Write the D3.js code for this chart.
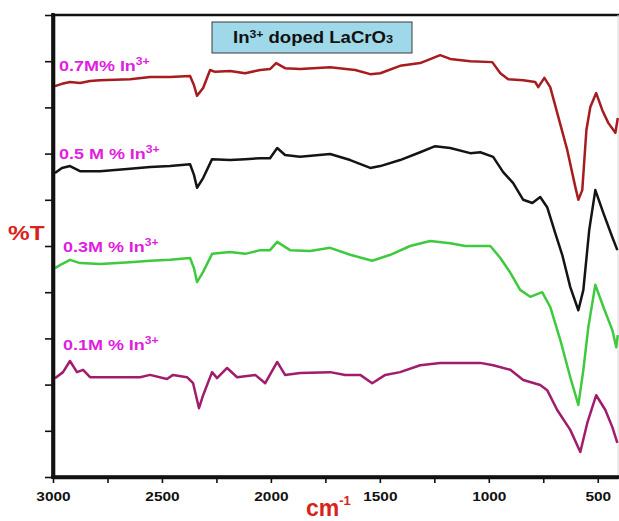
<!DOCTYPE html>
<html>
<head>
<meta charset="utf-8">
<script src="https://cdn.jsdelivr.net/npm/d3@7/dist/d3.min.js"></script>
<style>
  html, body { margin: 0; padding: 0; background: #fff; }
  svg { display: block; }
  text { font-family: "Liberation Sans", Arial, sans-serif; font-weight: bold; }
</style>
</head>
<body>
<svg id="chart" width="619" height="521"></svg>
<script>
// FTIR spectra of In3+ doped LaCrO3: [wavenumber (cm-1), %T]
const xTickValues = [3000, 2500, 2000, 1500, 1000, 500];
const xMinorTickValues = [2750, 2250, 1750, 1250, 750];
const yTickValues = [0, 10, 20, 30, 40, 50, 60, 70, 80, 90, 100];

const sampleLabels = ["0.7M% In", "0.5 M % In", "0.3M % In", "0.1M % In"];
const sampleColors = ["#a61c1f", "#141414", "#3fc93f", "#a11c6c"];

const spectrum07 = [
  [2991,84.6],[2959,85.1],[2922,85.5],[2876,85.3],[2830,85.7],[2784,85.9],[2646,86.1],
  [2554,86.6],[2463,86.6],[2371,86.8],[2353,84.8],[2339,82.5],[2311,84.2],[2279,88.1],
  [2256,87.7],[2187,87.9],[2118,87.4],[2049,88.1],[2004,88.3],[1976,89.6],[1935,88.5],
  [1866,88.3],[1728,88.7],[1613,88.1],[1544,87.2],[1498,87.4],[1407,89.0],[1315,89.6],
  [1223,91.3],[1177,90.5],[1085,90.0],[984,89.8],[947,87.4],[911,86.1],[842,85.9],
  [787,85.5],[773,84.4],[745,86.4],[718,84.4],[686,78.8],[640,70.8],[603,62.8],
  [589,60.0],[571,62.1],[552,75.1],[534,80.1],[507,83.1],[479,79.4],[451,76.6],
  [419,74.5],[408,77.7]
];
const spectrum05 = [
  [2991,65.8],[2959,66.9],[2922,67.3],[2876,66.2],[2784,66.2],[2646,66.7],[2554,67.1],
  [2463,67.3],[2371,67.7],[2353,65.4],[2339,62.6],[2311,64.7],[2270,68.8],[2187,68.6],
  [2118,68.8],[2049,69.0],[2004,69.0],[1971,71.2],[1935,69.7],[1866,69.3],[1728,69.9],
  [1636,68.6],[1544,66.9],[1498,67.3],[1407,68.6],[1315,70.3],[1246,71.6],[1177,71.2],
  [1085,70.1],[1039,70.3],[980,69.3],[934,66.0],[888,63.6],[842,60.0],[800,59.3],
  [764,60.6],[732,58.4],[695,52.8],[663,48.1],[626,41.1],[589,36.1],[566,40.5],
  [539,53.5],[511,62.1],[474,57.1],[433,51.9],[410,49.1]
];
const spectrum03 = [
  [2991,45.2],[2959,46.1],[2922,47.0],[2876,46.3],[2784,46.1],[2646,46.5],[2554,46.8],
  [2463,47.0],[2371,47.4],[2353,45.2],[2339,42.2],[2311,44.4],[2270,48.3],[2187,48.7],
  [2118,48.3],[2049,49.1],[2004,49.1],[1971,50.9],[1912,49.1],[1820,48.9],[1728,49.6],
  [1636,48.1],[1535,46.8],[1452,48.1],[1361,50.0],[1269,51.1],[1177,50.6],[1108,50.0],
  [993,50.0],[947,47.4],[901,44.2],[856,40.5],[810,39.0],[755,40.0],[718,36.8],
  [672,29.7],[626,21.6],[589,15.6],[566,23.2],[543,32.5],[511,41.6],[474,36.8],
  [433,31.8],[415,28.1],[408,30.7]
];
const spectrum01 = [
  [2991,21.4],[2954,22.7],[2922,25.1],[2890,22.7],[2862,23.2],[2830,21.6],[2600,21.6],
  [2555,22.1],[2477,21.2],[2449,22.1],[2385,21.6],[2357,20.3],[2330,14.9],[2311,17.7],
  [2270,22.7],[2247,21.4],[2201,23.6],[2155,21.6],[2072,22.1],[2026,20.3],[1971,24.9],
  [1935,22.1],[1866,22.5],[1728,22.7],[1659,22.1],[1590,22.1],[1535,20.3],[1475,22.1],
  [1407,22.7],[1315,24.2],[1223,24.7],[1131,24.7],[1039,24.7],[980,24.2],[901,23.2],
  [842,21.0],[764,19.9],[732,18.8],[686,14.5],[626,10.2],[580,5.4],[548,11.7],
  [507,17.7],[465,14.5],[433,10.8],[410,7.4]
];
const spectra = [spectrum07, spectrum05, spectrum03, spectrum01];

const svg = d3.select("#chart");
svg.append("rect").attr("width", 619).attr("height", 521).attr("fill", "#fff");

const plot = { left: 53, right: 618, top: 15, bottom: 477 };
const x = d3.scaleLinear().domain([3000, 407]).range([plot.left, plot.right]);
const y = d3.scaleLinear().domain([0, 100]).range([plot.bottom, plot.top]);

// text in this chart is set slightly wide
const stretch = 1.16;
function wideText(parent, px, py) {
  return parent.append("text").attr("transform", `translate(${px},${py}) scale(${stretch},1)`);
}

// frame: top rule and faint right edge
svg.append("line").attr("x1", plot.left).attr("x2", plot.right + 1)
  .attr("y1", plot.top).attr("y2", plot.top).attr("stroke", "#111").attr("stroke-width", 2.5);
svg.append("line").attr("x1", plot.right).attr("x2", plot.right)
  .attr("y1", plot.top).attr("y2", plot.bottom).attr("stroke", "#d8d8d8").attr("stroke-width", 1);

// spectra
const line = d3.line().x(d => x(d[0])).y(d => y(d[1]));
svg.append("g").selectAll("path").data(spectra).join("path")
  .attr("d", line).attr("fill", "none")
  .attr("stroke", (d, i) => sampleColors[i])
  .attr("stroke-width", 2.5).attr("stroke-linejoin", "round");

// axes
const xAxis = svg.append("g").attr("transform", `translate(0,${plot.bottom})`)
  .call(d3.axisBottom(x).tickValues(xTickValues).tickFormat(d3.format("d"))
    .tickSize(6).tickSizeOuter(0).tickPadding(8.5));
svg.append("g").attr("transform", `translate(0,${plot.bottom})`)
  .call(d3.axisBottom(x).tickValues(xMinorTickValues).tickFormat("")
    .tickSize(6).tickSizeOuter(0))
  .select(".domain").remove();
xAxis.selectAll("text").attr("font-size", 13.3).attr("fill", "#111")
  .attr("font-family", "'Liberation Sans', Arial, sans-serif").attr("font-weight", "bold")
  .attr("transform", `scale(${stretch},1)`);

const yAxis = svg.append("g").attr("transform", `translate(${plot.left},0)`)
  .call(d3.axisLeft(y).tickValues(yTickValues).tickFormat("").tickSize(8).tickSizeOuter(0));

svg.selectAll(".tick line").attr("stroke", "#111").attr("stroke-width", 1.6);
svg.selectAll(".domain").attr("stroke", "#111").attr("stroke-width", 3.6);
// extend the axis lines slightly past the corner
svg.append("line").attr("x1", plot.left).attr("x2", plot.left)
  .attr("y1", plot.top - 2).attr("y2", plot.bottom + 2).attr("stroke", "#111").attr("stroke-width", 3.6);
svg.append("line").attr("x1", plot.left - 2).attr("x2", plot.right + 1)
  .attr("y1", plot.bottom).attr("y2", plot.bottom).attr("stroke", "#111").attr("stroke-width", 3.6);

// title box
svg.append("rect").attr("x", 212).attr("y", 22).attr("width", 200).attr("height", 31)
  .attr("fill", "#9fd8e8").attr("stroke", "#3a3a3a").attr("stroke-width", 1);
const title = wideText(svg, 233, 43).attr("font-size", 16).attr("fill", "#111");
title.append("tspan").text("In");
title.append("tspan").attr("font-size", 10.5).attr("dy", -5.5).text("3+");
title.append("tspan").attr("dy", 5.5).text(" doped LaCrO");
title.append("tspan").attr("font-size", 11).text("3");

// sample labels
const labelAnchors = [[59, 71], [59, 159], [63, 252], [63, 350]];
sampleLabels.forEach((name, i) => {
  const t = wideText(svg, labelAnchors[i][0], labelAnchors[i][1])
    .attr("font-size", 15.5).attr("fill", "#e01ee0");
  t.append("tspan").text(name);
  t.append("tspan").attr("font-size", 10.5).attr("dy", -6).text("3+");
});

// axis titles
wideText(svg, 8, 240).attr("font-size", 21).attr("fill", "#d8231c").text("%T");
const xTitle = svg.append("text").attr("x", 306).attr("y", 516)
  .attr("font-size", 23).attr("fill", "#d8231c");
xTitle.append("tspan").text("cm");
xTitle.append("tspan").attr("font-size", 13).attr("dy", -11).text("-1");
</script>
</body>
</html>
